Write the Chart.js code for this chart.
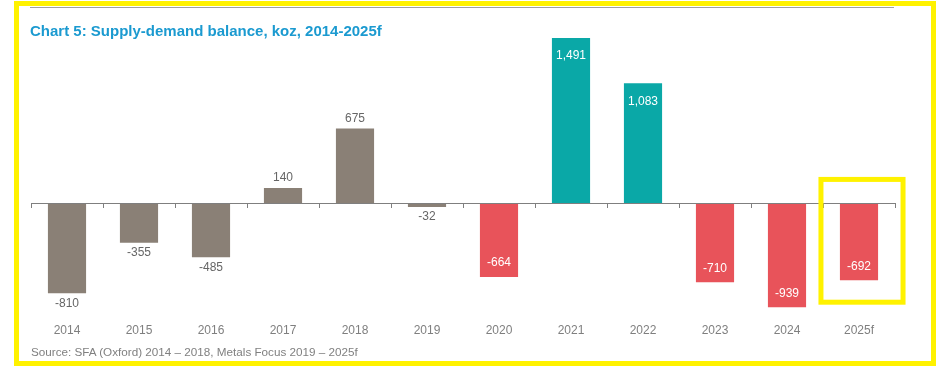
<!DOCTYPE html>
<html>
<head>
<meta charset="utf-8">
<script src="https://cdn.jsdelivr.net/npm/chart.js@4"></script>
<style>
  html, body { margin: 0; padding: 0; background: #fff; }
  body { width: 937px; height: 367px; position: relative; overflow: hidden; font-family: "Liberation Sans", Arial, sans-serif; }
  #frame { position: absolute; left: 14px; top: 1px; width: 912px; height: 355px; border: 5px solid #FFF200; pointer-events: none; }
  #topline { position: absolute; left: 30px; top: 7px; width: 864px; height: 0; border-top: 1px solid #a0a0a0; }
  #title { position: absolute; left: 30px; top: 22px; font-size: 15px; font-weight: bold; color: #1B9AD0; white-space: nowrap; }
  #source { position: absolute; left: 31px; top: 345px; font-size: 11.7px; color: #808080; white-space: nowrap; }
  #wrap { position: absolute; left: 0; top: 0; width: 937px; height: 367px; }
</style>
</head>
<body>
<div id="wrap"><canvas id="c" width="937" height="367"></canvas></div>
<div id="topline"></div>
<div id="title">Chart 5: Supply-demand balance, koz, 2014-2025f</div>
<div id="source">Source: SFA (Oxford) 2014 – 2018, Metals Focus 2019 – 2025f</div>
<div id="frame"></div>
<script>
const categories = ['2014','2015','2016','2017','2018','2019','2020','2021','2022','2023','2024','2025f'];
const balance = [-810, -355, -485, 140, 675, -32, -664, 1491, 1083, -710, -939, -692];
const highlighted = ['2025f'];

const GRAY = '#8A8076', TEAL = '#0AA8A7', RED = '#E8535A';
const colors = balance.map((v, i) => i < 6 ? GRAY : (v >= 0 ? TEAL : RED));

const fmt = v => v.toLocaleString('en-US');

const overlay = {
  id: 'overlay',
  afterDatasetsDraw(chart) {
    const ctx = chart.ctx;
    const ys = chart.scales.y;
    const y0 = ys.getPixelForValue(0);
    const area = chart.chartArea;
    ctx.save();
    ctx.strokeStyle = '#7f7f7f';
    ctx.lineWidth = 1;
    ctx.beginPath();
    ctx.moveTo(area.left, Math.round(y0) + 0.5);
    ctx.lineTo(area.right, Math.round(y0) + 0.5);
    const step = (area.right - area.left) / categories.length;
    for (let i = 0; i <= categories.length; i++) {
      const x = Math.round(area.left + i * step) + 0.5;
      ctx.moveTo(x, Math.round(y0));
      ctx.lineTo(x, Math.round(y0) + 5);
    }
    ctx.stroke();
    const meta = chart.getDatasetMeta(0);
    ctx.font = '12px "Liberation Sans", Arial, sans-serif';
    ctx.textAlign = 'center';
    ctx.textBaseline = 'middle';
    meta.data.forEach((bar, i) => {
      const v = balance[i];
      let y, col;
      if (i < 6) {
        col = '#666666';
        y = v >= 0 ? bar.y - 10 : bar.y + 10;
      } else {
        col = '#ffffff';
        y = v >= 0 ? bar.y + 18 : bar.y - 14;
      }
      ctx.fillStyle = col;
      ctx.fillText(fmt(v), bar.x, y);
    });
    highlighted.forEach(cat => {
      const i = categories.indexOf(cat);
      const bar = meta.data[i];
      ctx.strokeStyle = '#FFF200';
      ctx.lineWidth = 5;
      const half = step * 0.57;
      ctx.strokeRect(bar.x - half + 3, y0 - 24, half * 2, (bar.y - y0) + 24 + 22);
    });
    ctx.restore();
  }
};

new Chart(document.getElementById('c'), {
  type: 'bar',
  data: {
    labels: categories,
    datasets: [{
      data: balance,
      backgroundColor: colors,
      borderWidth: 0,
      categoryPercentage: 1,
      barPercentage: 0.53
    }]
  },
  options: {
    responsive: false,
    animation: false,
    devicePixelRatio: 1,
    layout: { padding: { left: 31, right: 42, top: 38, bottom: 13 } },
    plugins: { legend: { display: false }, tooltip: { enabled: false }, title: { display: false } },
    scales: {
      x: {
        grid: { display: false, drawTicks: false },
        border: { display: false },
        ticks: { color: '#7f7f7f', font: { family: '"Liberation Sans", Arial, sans-serif', size: 12 }, padding: 16, maxRotation: 0 }
      },
      y: {
        display: false,
        min: -939,
        max: 1491
      }
    }
  },
  plugins: [overlay]
});
</script>
</body>
</html>
